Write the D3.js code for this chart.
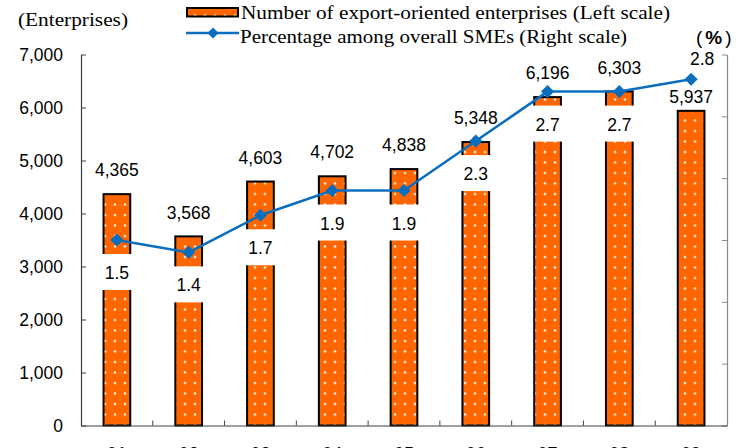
<!DOCTYPE html>
<html>
<head>
<meta charset="utf-8">
<script src="https://cdn.jsdelivr.net/npm/d3@7"></script>
<style>
  html, body { margin: 0; padding: 0; background: #fff; }
  svg { display: block; }
</style>
</head>
<body>
<svg id="chart" width="738" height="448"></svg>
<script>
// Fiscal years (two-digit) along the x axis
const years = ["01", "02", "03", "04", "05", "06", "07", "08", "09"];
// Number of export-oriented enterprises (left scale)
const enterprises = [4365, 3568, 4603, 4702, 4838, 5348, 6196, 6303, 5937];
// Share among overall SMEs, % (right scale)
const sharePct = [1.5, 1.4, 1.7, 1.9, 1.9, 2.3, 2.7, 2.7, 2.8];
// Axis ticks
const leftTicks = [0, 1000, 2000, 3000, 4000, 5000, 6000, 7000];
const rightTicks = [0, 0.5, 1.0, 1.5, 2.0, 2.5, 3.0];

const svg = d3.select("#chart");
const plot = { left: 81, right: 727, top: 54.5, bottom: 425.5 };

const sansFont = "'Liberation Sans', Arial, sans-serif";
const serifFont = "'Liberation Serif', 'Times New Roman', serif";
const barColor = "#FF6600";
const lineColor = "#0A6EBF";

const x = d3.scaleBand()
  .domain(years)
  .range([plot.left, plot.right])
  .paddingInner(0.6)
  .paddingOuter(0.3);

const yLeft = d3.scaleLinear().domain([0, 7000]).range([plot.bottom, plot.top]);
const yRight = d3.scaleLinear().domain([0, 3]).range([plot.bottom, plot.top]);
const cx = d => x(d) + x.bandwidth() / 2;

// Dotted orange fill for the bars
const defs = svg.append("defs");
const pat = defs.append("pattern")
  .attr("id", "dots")
  .attr("patternUnits", "userSpaceOnUse")
  .attr("width", 10).attr("height", 10.5);
pat.append("rect").attr("width", 10).attr("height", 10.5).attr("fill", barColor);
pat.append("circle").attr("cx", 5).attr("cy", 5).attr("r", 1.25).attr("fill", "#FFF0E6");

// Bars
svg.append("g").selectAll("rect")
  .data(years)
  .join("rect")
  .attr("x", d => x(d) + 1)
  .attr("y", (d, i) => yLeft(enterprises[i]))
  .attr("width", x.bandwidth() - 2)
  .attr("height", (d, i) => yLeft(0) - yLeft(enterprises[i]))
  .attr("fill", "url(#dots)")
  .attr("stroke", "#000")
  .attr("stroke-width", 2);

// Left axis (ticks point into the plot)
const axL = svg.append("g")
  .attr("transform", `translate(${plot.left},0)`)
  .call(d3.axisLeft(yLeft).tickValues(leftTicks)
    .tickSizeInner(-5).tickSizeOuter(0).tickPadding(18)
    .tickFormat(d3.format(",")));
axL.select(".domain").attr("stroke", "#404040").attr("stroke-width", 1.2);
axL.selectAll(".tick line").attr("stroke", "#404040");
axL.selectAll("text").attr("font-family", sansFont).attr("font-size", 17.5).attr("fill", "#000");

// Right axis: ticks only, its labels fall past the right edge of the frame
const axR = svg.append("g")
  .attr("transform", `translate(${plot.right},0)`)
  .call(d3.axisRight(yRight).tickValues(rightTicks)
    .tickSizeInner(-5).tickSizeOuter(0)
    .tickFormat(""));
axR.select(".domain").attr("stroke", "#8a8a8a").attr("stroke-width", 1.2);
axR.selectAll(".tick line").attr("stroke", "#8a8a8a");

// Bottom axis: baseline, boundary ticks and year labels
const axB = svg.append("g")
  .attr("transform", `translate(0,${plot.bottom})`)
  .call(d3.axisBottom(x).tickSize(0).tickPadding(22));
axB.select(".domain").attr("stroke", "#404040").attr("stroke-width", 1.2);
axB.selectAll("text").attr("font-family", sansFont).attr("font-size", 18).attr("fill", "#000");
svg.append("g").selectAll("line")
  .data(years.slice(0, -1))
  .join("line")
  .attr("x1", d => cx(d) + x.step() / 2)
  .attr("x2", d => cx(d) + x.step() / 2)
  .attr("y1", plot.bottom)
  .attr("y2", plot.bottom - 5)
  .attr("stroke", "#404040");

// Value labels above bars
const last = years.length - 1;
svg.append("g").selectAll("text")
  .data(years)
  .join("text")
  .attr("x", d => cx(d))
  .attr("y", (d, i) => yLeft(enterprises[i]) - (i === last ? 14 : 24))
  .attr("dy", "0.35em")
  .attr("text-anchor", "middle")
  .attr("font-family", sansFont)
  .attr("font-size", 17.5)
  .text((d, i) => d3.format(",")(enterprises[i]));

// White boxes behind the percentage labels (not for the last point, labelled above)
const boxW = 46, boxH = 36;
svg.append("g").selectAll("rect")
  .data(years.slice(0, last))
  .join("rect")
  .attr("x", d => cx(d) - boxW / 2)
  .attr("y", (d, i) => yRight(sharePct[i]) + 14)
  .attr("width", boxW)
  .attr("height", boxH)
  .attr("fill", "#fff");

// Percentage line with diamond markers
svg.append("path")
  .datum(years)
  .attr("fill", "none")
  .attr("stroke", lineColor)
  .attr("stroke-width", 2.5)
  .attr("d", d3.line().x(d => cx(d)).y((d, i) => yRight(sharePct[i])));

svg.append("g").selectAll("path")
  .data(years)
  .join("path")
  .attr("transform", (d, i) => `translate(${cx(d)},${yRight(sharePct[i])})`)
  .attr("d", d3.symbol(d3.symbolDiamond2, 110))
  .attr("fill", lineColor);

// Percentage labels
svg.append("g").selectAll("text")
  .data(years)
  .join("text")
  .attr("x", (d, i) => cx(d) + (i === last ? 11 : 0))
  .attr("y", (d, i) => yRight(sharePct[i]) + (i === last ? -20 : 33))
  .attr("dy", "0.35em")
  .attr("text-anchor", "middle")
  .attr("font-family", sansFont)
  .attr("font-size", 17.5)
  .text((d, i) => d3.format(".1f")(sharePct[i]));

// Axis unit titles
svg.append("text")
  .attr("x", 18).attr("y", 26)
  .attr("font-family", serifFont).attr("font-size", 19)
  .attr("textLength", 110).attr("lengthAdjust", "spacingAndGlyphs")
  .text("(Enterprises)");

const pctUnit = svg.append("text")
  .attr("x", 696).attr("y", 44)
  .attr("font-family", sansFont).attr("font-size", 19);
pctUnit.append("tspan").attr("font-weight", "normal").text("(");
pctUnit.append("tspan").attr("dx", 3).attr("font-weight", "bold").text("%");
pctUnit.append("tspan").attr("dx", 3).attr("font-weight", "normal").text(")");

// Legend
const lg = svg.append("g");
lg.append("rect")
  .attr("x", 187).attr("y", 8).attr("width", 51).attr("height", 8.5)
  .attr("fill", "url(#dots)").attr("stroke", "#000").attr("stroke-width", 2);
lg.append("text")
  .attr("x", 241).attr("y", 19)
  .attr("font-family", serifFont).attr("font-size", 19)
  .attr("textLength", 429).attr("lengthAdjust", "spacingAndGlyphs")
  .text("Number of export-oriented enterprises (Left scale)");
lg.append("line")
  .attr("x1", 186).attr("x2", 239).attr("y1", 33).attr("y2", 33)
  .attr("stroke", lineColor).attr("stroke-width", 2.5);
lg.append("path")
  .attr("transform", "translate(213,33)")
  .attr("d", d3.symbol(d3.symbolDiamond2, 80))
  .attr("fill", lineColor);
lg.append("text")
  .attr("x", 240).attr("y", 43)
  .attr("font-family", serifFont).attr("font-size", 19)
  .attr("textLength", 387).attr("lengthAdjust", "spacingAndGlyphs")
  .text("Percentage among overall SMEs (Right scale)");
</script>
</body>
</html>
